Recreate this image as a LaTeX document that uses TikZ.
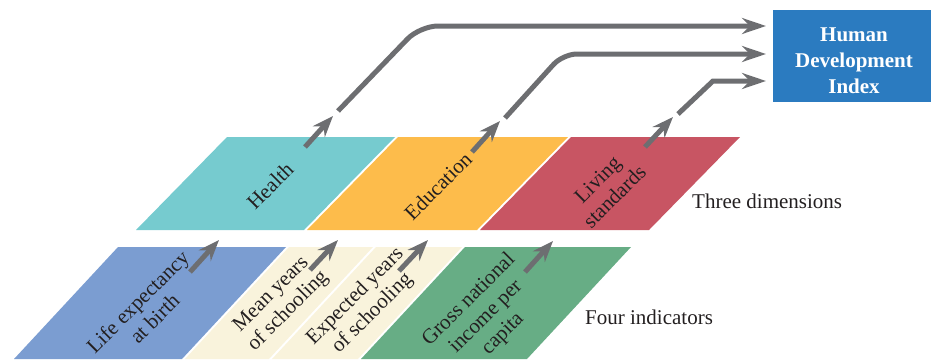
\documentclass[tikz,border=0pt]{standalone}
\usepackage{fontspec}
\setmainfont{Liberation Serif}
\usetikzlibrary{arrows.meta}
\definecolor{teal1}{HTML}{76CBCF}
\definecolor{orange1}{HTML}{FDBC4B}
\definecolor{red1}{HTML}{C85563}
\definecolor{blue1}{HTML}{7B9DD1}
\definecolor{cream1}{HTML}{F9F3DC}
\definecolor{green1}{HTML}{67AD85}
\definecolor{hdi}{HTML}{2B7BC0}
\definecolor{arrgray}{HTML}{6D6E71}
\definecolor{txt}{HTML}{231F20}
\begin{document}
\begin{tikzpicture}[x=1pt,y=-1pt,
  lbl/.style={text=txt, font=\fontsize{21}{24}\selectfont, align=center, rotate=45, inner sep=0pt},
  side/.style={text=txt, font=\fontsize{21}{24}\selectfont, anchor=west, inner sep=0pt},
  arr/.style={draw=arrgray, line width=5pt, -{Stealth[length=21pt,width=16pt,inset=7pt]}},
  longarr/.style={draw=arrgray, line width=5pt, -{Stealth[length=24pt,width=16pt,inset=8pt]}},
]
\useasboundingbox (0,0) rectangle (931,359);

% top row: three dimensions
\fill[teal1]   (136,230) -- (227,137) -- (395,137) -- (304,230) -- cycle;
\fill[orange1] (307,230) -- (398,137) -- (568,137) -- (477,230) -- cycle;
\fill[red1]    (480,230) -- (571,137) -- (740,137) -- (649,230) -- cycle;

% bottom row: four indicators
\fill[blue1]  (14,359) -- (118,247) -- (286,247) -- (182,359) -- cycle;
\fill[cream1] (185,359) -- (289,247) -- (373,247) -- (269,359) -- cycle;
\fill[cream1] (272,359) -- (376,247) -- (462,247) -- (358,359) -- cycle;
\fill[green1] (361,359) -- (465,247) -- (631,247) -- (527,359) -- cycle;

% HDI box
\node[fill=hdi, minimum width=158pt, minimum height=92pt, inner sep=0pt] (hdi) at (852,56) {};
\node[text=white, inner sep=0pt, font=\fontsize{21}{26}\selectfont\bfseries, align=center]
      (hditxt) at (854,61) {Human\\Development\\Index};

% labels
\node[lbl] (health) at (270,186) {Health};
\node[lbl] (edu) at (438,186) {Education};
\node[lbl] (liv) at (606,188) {Living\\standards};
\node[lbl] (life) at (146,310) {Life expectancy\\at birth};
\node[lbl] (mys) at (280,303) {Mean years\\of schooling};
\node[lbl] (eys) at (364,305) {Expected years\\of schooling};
\node[lbl] (gni) at (486,317) {Gross national\\income per\\capita};
\node[side] (three) at (692,201) {Three dimensions};
\node[side] (four) at (585,317) {Four indicators};

% coordinates for arrows
\coordinate (b1s) at (190,272); \coordinate (b1e) at (219,240);
\coordinate (b2s) at (310,270); \coordinate (b2e) at (338,240);
\coordinate (b3s) at (399,271); \coordinate (b3e) at (428,240);
\coordinate (b4s) at (525,272); \coordinate (b4e) at (553,241);
\coordinate (t1s) at (305,147); \coordinate (t1e) at (333,116);
\coordinate (t2s) at (472,152); \coordinate (t2e) at (500,121);
\coordinate (t3s) at (645,147); \coordinate (t3e) at (673,117);
\coordinate (l1s) at (338,111); \coordinate (l1c) at (420,26); \coordinate (l1e) at (766,26);
\coordinate (l2s) at (505,118); \coordinate (l2c) at (563,54); \coordinate (l2e) at (766,54);
\coordinate (l3s) at (678,114); \coordinate (l3c) at (713,81); \coordinate (l3e) at (766,81);

\draw[arr] (b1s) -- (b1e);
\draw[arr] (b2s) -- (b2e);
\draw[arr] (b3s) -- (b3e);
\draw[arr] (b4s) -- (b4e);
\draw[arr] (t1s) -- (t1e);
\draw[arr] (t2s) -- (t2e);
\draw[arr] (t3s) -- (t3e);

\draw[longarr, rounded corners=18pt] (l1s) -- (l1c) -- (l1e);
\draw[longarr, rounded corners=14pt] (l2s) -- (l2c) -- (l2e);
\draw[longarr] (l3s) -- (l3c) -- (l3e);
\end{tikzpicture}
\end{document}
